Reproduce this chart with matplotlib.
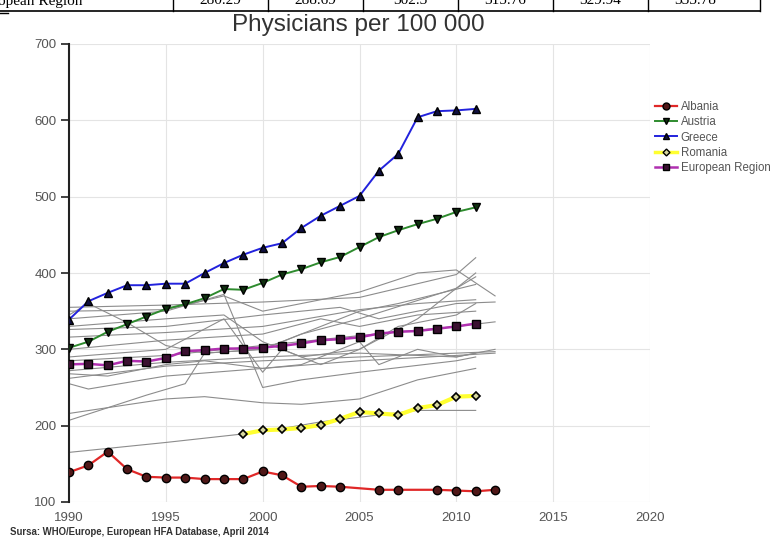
import matplotlib
matplotlib.use("Agg")
import matplotlib.pyplot as plt
from matplotlib.lines import Line2D

# ---------------- data ----------------
years_full = list(range(1990, 2012))  # 1990..2011

greece = [339, 363, 374, 384, 384, 386, 386, 400, 413, 424, 433, 439,
          459, 475, 488, 501, 534, 556, 604, 612, 613, 615]
austria = [302, 310, 323, 333, 343, 353, 359, 367, 379, 378, 387, 398,
           405, 414, 421, 434, 447, 456, 464, 471, 480, 486]
euro = [280.29, 281, 279, 285, 284, 288.69, 297.6, 299, 301, 301, 302.3, 304.6,
        307.7, 312, 313.3, 315.76, 320.6, 323, 324, 327, 329.94, 333.78]

romania_years = list(range(1999, 2012))
romania = [189, 194, 195, 197, 201, 209, 218, 216, 214, 223, 227, 238, 239]

albania_years = [1990, 1991, 1992, 1993, 1994, 1995, 1996, 1997, 1998, 1999,
                 2000, 2001, 2002, 2003, 2004, 2006, 2007, 2009, 2010, 2011, 2012]
albania = [139, 148, 166, 143, 133, 132, 132, 130, 130, 130,
           140, 135, 120, 121, 120, 116, 116, 116, 115, 114, 116]

# other European countries (background grey lines): (years, values)
others = [
    ([1990, 1995, 2000, 2005, 2010, 2011], [355, 358, 362, 368, 398, 420]),
    ([1990, 1995, 1998, 2000, 2005, 2008, 2010, 2012], [350, 352, 370, 350, 375, 400, 404, 370]),
    ([1990, 1991, 1993, 1995, 1997, 2000, 2002, 2005, 2010, 2011], [345, 360, 335, 305, 295, 300, 320, 340, 380, 395]),
    ([1990, 1995, 1998, 2000, 2002, 2005, 2008, 2011], [330, 340, 345, 310, 290, 300, 340, 400]),
    ([1990, 1995, 2000, 2005, 2008, 2011], [316, 322, 330, 352, 360, 365]),
    ([1990, 1995, 2000, 2003, 2005, 2008, 2011], [300, 312, 320, 340, 330, 345, 350]),
    ([1990, 1995, 1998, 1999, 2000, 2001, 2003, 2005, 2007, 2010, 2011], [290, 300, 340, 305, 270, 300, 280, 300, 330, 345, 360]),
    ([1990, 1995, 2000, 2005, 2010, 2012], [285, 292, 305, 318, 330, 336]),
    ([1990, 1995, 2000, 2005, 2010, 2011], [272, 283, 290, 295, 290, 295]),
    ([1990, 1992, 1995, 1997, 2000, 2002, 2005, 2006, 2008, 2010, 2012], [268, 265, 280, 285, 275, 280, 310, 280, 300, 290, 300]),
    ([1990, 1995, 2000, 2005, 2010, 2012], [262, 278, 285, 290, 295, 297]),
    ([1990, 1991, 1995, 2000, 2005, 2010, 2012], [255, 248, 265, 275, 285, 292, 295]),
    ([1990, 1994, 1996, 1997, 2000, 2003, 2005, 2007, 2011], [207, 240, 255, 295, 300, 330, 350, 360, 385]),
    ([1990, 1995, 1997, 2000, 2002, 2005, 2008, 2011], [216, 235, 238, 230, 228, 235, 260, 275]),
    ([1990, 1995, 2000, 2003, 2008, 2011], [165, 178, 192, 205, 220, 220]),
    ([1990, 1995, 1998, 2000, 2002, 2005, 2010, 2011], [340, 350, 372, 250, 260, 270, 285, 290]),
    ([1990, 1995, 2000, 2004, 2006, 2010, 2012], [326, 330, 345, 355, 340, 360, 362]),
]

table_labels = ["opean Region", "280.29", "288.69", "302.3", "315.76", "329.94", "333.78"]

# ---------------- figure ----------------
W, H = 783, 537
fig = plt.figure(figsize=(W / 100, H / 100), dpi=100)
ax = fig.add_axes([69 / W, 1 - 502 / H, (650 - 69) / W, (502 - 44) / H])

for xs, ys in others:
    ax.plot(xs, ys, color="#8c8c8c", lw=0.8, zorder=2)

ax.plot(years_full, greece, color="#2222dd", lw=1.4, marker="^", ms=6,
        mfc="#101040", mec="#000000", zorder=5, label="Greece")
ax.plot(years_full, austria, color="#2e8b2e", lw=1.4, marker="v", ms=6,
        mfc="#103010", mec="#000000", zorder=5, label="Austria")
ax.plot(years_full, euro, color="#b030b0", lw=1.8, marker="s", ms=6,
        mfc="#3a1030", mec="#000000", zorder=5, label="European Region")
ax.plot(romania_years, romania, color="#ffff30", lw=3, marker="D", ms=4,
        mfc="#d8d8a0", mec="#000000", mew=1.2, zorder=5, label="Romania")
ax.plot(albania_years, albania, color="#e02828", lw=1.6, marker="o", ms=6,
        mfc="#501818", mec="#000000", zorder=5, label="Albania")

ax.set_xlim(1990, 2020)
ax.set_ylim(100, 700)
ax.set_xticks(range(1990, 2021, 5))
ax.set_yticks(range(100, 701, 100))
ax.grid(True, color="#e4e4e4", lw=0.8, zorder=0)
for s in ["top", "right", "bottom"]:
    ax.spines[s].set_visible(False)
ax.spines["left"].set_color("#222222")
ax.spines["left"].set_linewidth(1.5)
ax.tick_params(axis="y", length=6, width=1.2, color="#222222", labelsize=9.5,
               labelcolor="#555555", pad=3)
ax.tick_params(axis="x", length=0, labelsize=9.5, labelcolor="#555555", pad=7)
for lab in ax.get_xticklabels() + ax.get_yticklabels():
    lab.set_family(["Liberation Sans", "DejaVu Sans"])

# title
fig.text(358 / W, 1 - 25 / H, "Physicians per 100 000", ha="center", va="center",
         fontsize=17.5, color="#333333", family=["Liberation Sans", "DejaVu Sans"])

# legend
handles = [
    Line2D([], [], color="#e02828", lw=1.6, marker="o", ms=5, mfc="#501818", mec="#000"),
    Line2D([], [], color="#2e8b2e", lw=1.4, marker="v", ms=5, mfc="#103010", mec="#000"),
    Line2D([], [], color="#2222dd", lw=1.4, marker="^", ms=5, mfc="#101040", mec="#000"),
    Line2D([], [], color="#ffff30", lw=2.5, marker="D", ms=3.5, mfc="#d8d8a0", mec="#000"),
    Line2D([], [], color="#b030b0", lw=1.8, marker="s", ms=5, mfc="#3a1030", mec="#000"),
]
leg = fig.legend(handles, ["Albania", "Austria", "Greece", "Romania", "European Region"],
                 loc="upper left", bbox_to_anchor=(650 / W, 1 - 96 / H), frameon=False,
                 handlelength=1.9, handletextpad=0.35, labelspacing=0.3,
                 borderaxespad=0, prop={"family": ["Liberation Sans", "DejaVu Sans"], "size": 8.3})
for t in leg.get_texts():
    t.set_color("#555555")

# source
fig.text(10 / W, 1 - 532 / H, "Sursa: WHO/Europe, European HFA Database, April 2014",
         ha="left", va="center", fontsize=6.9, fontweight="bold", color="#333333",
         family=["Liberation Sans", "DejaVu Sans"])

# top table fragment (cut off, as in the reference)
xs_lines = [173, 268, 363, 458, 553, 648, 760]
fig.add_artist(Line2D([0, 760 / W], [1 - 10.5 / H, 1 - 10.5 / H], color="black", lw=1.2))
for xv in xs_lines:
    fig.add_artist(Line2D([xv / W, xv / W], [1 - 10.5 / H, 1.0], color="black", lw=1.0))
fig.add_artist(Line2D([0, 8 / W], [1 - 13 / H, 1 - 13 / H], color="black", lw=1.0))
centers = [0, 220, 315, 410, 505, 600, 695]
for i, (c, t) in enumerate(zip(centers, table_labels)):
    if i == 0:
        fig.text(-2 / W, 1 - 1 / H, t, ha="left", va="center", fontsize=11,
                 family=["Liberation Serif", "DejaVu Serif"])
    else:
        fig.text(c / W, 1 - 1 / H, t, ha="center", va="center", fontsize=11,
                 family=["Liberation Serif", "DejaVu Serif"])

fig.savefig("out.png", dpi=100, facecolor="white")
